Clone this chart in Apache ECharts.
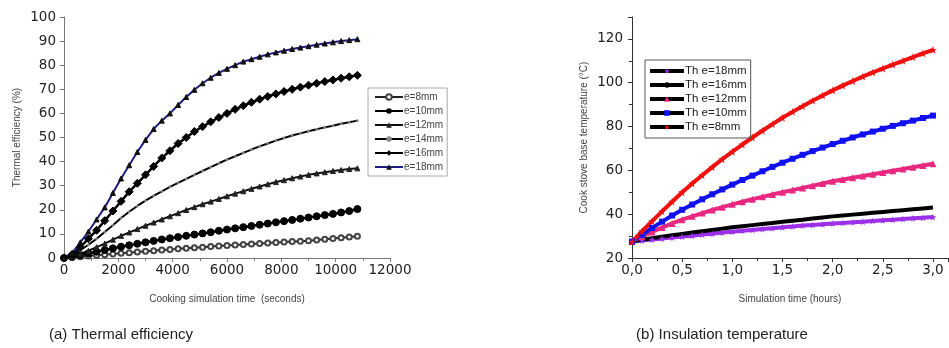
<!DOCTYPE html>
<html>
<head>
<meta charset="utf-8">
<style>html,body{margin:0;padding:0;background:#fff}#c{width:949px;height:348px}</style>
<script src="https://cdn.jsdelivr.net/npm/echarts@6/dist/echarts.min.js"></script>
</head>
<body>
<div id="c"></div>
<script>
// ---------- Chart (a): thermal efficiency ----------
const timeSec = [0,300,600,900,1200,1500,1800,2100,2400,2700,3000,3300,3600,3900,4200,4500,4800,5100,5400,5700,6000,6300,6600,6900,7200,7500,7800,8100,8400,8700,9000,9300,9600,9900,10200,10500,10800];
const eff8  = [0,0.2,0.5,0.8,1.1,1.4,1.7,2,2.2,2.5,2.8,3,3.3,3.5,3.8,4,4.3,4.5,4.8,5,5.2,5.4,5.6,5.8,6,6.2,6.4,6.6,6.8,7,7.2,7.5,7.8,8.1,8.4,8.7,9];
const eff10 = [0,0.5,1.2,1.9,2.6,3.3,4,4.7,5.3,5.9,6.5,7.1,7.7,8.2,8.7,9.2,9.7,10.2,10.7,11.3,11.8,12.3,12.8,13.3,13.8,14.3,14.8,15.3,15.8,16.3,16.8,17.3,17.8,18.3,18.9,19.5,20.3];
const eff12 = [0,0.6,1.8,3,4.5,6,7.6,9.2,10.6,12,13.4,14.7,16,17.3,18.6,19.9,21.1,22.3,23.4,24.5,25.6,26.7,27.7,28.7,29.7,30.6,31.5,32.3,33.1,33.8,34.5,35.1,35.6,36.1,36.5,36.9,37.2];
const eff14 = [0,1.2,3.2,5.5,8,10.8,13.6,16.6,19.2,21.6,23.8,25.8,27.6,29.5,31.2,32.8,34.5,36.1,37.7,39.3,40.8,42.2,43.6,45,46.3,47.5,48.7,49.8,50.8,51.7,52.6,53.4,54.2,54.9,55.7,56.3,57];
const eff16 = [0,1.5,4.5,8,11.5,15.5,19.5,23.5,27.5,31,34.5,38,41.5,44.5,47.5,50,52.5,54.5,56.5,58.3,60,61.7,63.2,64.6,65.9,67,68.1,69.1,70,70.9,71.7,72.5,73.2,73.9,74.6,75.2,75.8];
const eff18 = [0,2,6.5,11,16,21,27,33,38.5,44,49,53.5,57,60,63.5,66.8,69.8,72.5,74.8,76.8,78.5,80,81.5,82.5,83.5,84.5,85.3,86,86.7,87.3,87.9,88.5,89,89.5,90,90.4,90.8];
const effNames = ['e=8mm','e=10mm','e=12mm','e=14mm','e=16mm','e=18mm'];
const effXTicks = [0,2000,4000,6000,8000,10000,12000];
const effYTicks = [0,10,20,30,40,50,60,70,80,90,100];

// ---------- Chart (b): insulation temperature ----------
const hours = [0,0.1,0.2,0.3,0.4,0.5,0.6,0.7,0.8,0.9,1.0,1.1,1.2,1.3,1.4,1.5,1.6,1.7,1.8,1.9,2.0,2.1,2.2,2.3,2.4,2.5,2.6,2.7,2.8,2.9,3.0];
const th18 = [27.5,28,28.4,28.9,29.3,29.8,30.2,30.7,31.1,31.6,32,32.4,32.8,33.2,33.6,34,34.4,34.8,35.1,35.4,35.7,36,36.3,36.6,36.9,37.2,37.5,37.8,38.1,38.4,38.7];
const th16 = [27.5,28.3,29,29.7,30.4,31,31.6,32.2,32.8,33.4,34,34.5,35,35.5,36,36.5,37,37.5,38,38.5,39,39.4,39.8,40.2,40.6,41,41.4,41.8,42.2,42.6,43];
const th12 = [27.5,29.8,31.9,33.9,35.8,37.5,39,40.5,41.9,43.2,44.5,45.7,46.8,47.9,49,50,51,52,53,54,55,55.8,56.6,57.4,58.2,59,59.8,60.6,61.4,62.2,63];
const th10 = [27.5,30.6,33.7,36.6,39.4,42,44.4,46.8,49.1,51.3,53.5,55.6,57.6,59.6,61.6,63.5,65.3,67.1,68.8,70.4,72,73.5,75,76.4,77.7,79,80.3,81.5,82.7,83.9,85];
const th8  = [27.5,32.2,36.8,41.3,45.7,50,54,57.8,61.5,65.1,68.5,71.8,75,78.1,81.1,84,86.7,89.3,91.8,94.2,96.5,98.7,100.8,102.8,104.7,106.5,108.3,110,111.7,113.4,115];
const thNames = ['Th e=18mm','Th e=16mm','Th e=12mm','Th e=10mm','Th e=8mm'];
const thXTicks = [0,0.5,1.0,1.5,2.0,2.5,3.0];
const thYTicks = [20,40,60,80,100,120];

const captions = ['(a) Thermal efficiency','(b) Insulation temperature'];

const zip = (xs, ys) => xs.map((x, i) => [x, ys[i]]);
const star = 'path://M50,0 L61,35 L98,35 L68,57 L79,91 L50,70 L21,91 L32,57 L2,35 L39,35 Z';

const effSeries = [
  {d: eff8,  sym: 'emptyCircle', size: 5, col: '#444', lc: '#222', lw: 2},
  {d: eff10, sym: 'circle',      size: 7, col: '#000', lc: '#000', lw: 2.5},
  {d: eff12, sym: 'triangle',    size: 5, col: '#222', lc: '#111', lw: 2},
  {d: eff14, sym: 'circle',      size: 2, col: '#888', lc: '#000', lw: 2},
  {d: eff16, sym: 'diamond',     size: 8, col: '#000', lc: '#000', lw: 2.5},
  {d: eff18, sym: 'triangle',    size: 5, col: '#111', lc: '#1c1c80', lw: 2}
].map((s, i) => ({
  type: 'line', name: effNames[i], xAxisIndex: 0, yAxisIndex: 0,
  data: zip(timeSec, s.d), symbol: s.sym, symbolSize: s.size, showSymbol: true,
  lineStyle: {color: s.lc, width: s.lw}, itemStyle: {color: s.col, borderColor: s.col},
  smooth: false, animation: false
}));

const thStyle = [
  {d: th18, col: '#9b30e8', sym: star, size: 7},
  {d: th16, col: '#000000', sym: 'none', size: 0},
  {d: th12, col: '#e8287f', sym: 'triangle', size: 7},
  {d: th10, col: '#1010f0', sym: 'rect', size: 6},
  {d: th8,  col: '#f01010', sym: star, size: 8}
];
const thSeries = thStyle.map((s, i) => ({
  type: 'line', name: thNames[i], xAxisIndex: 1, yAxisIndex: 1,
  data: zip(hours, s.d), symbol: s.sym, symbolSize: s.size, showSymbol: s.sym !== 'none',
  lineStyle: {color: s.col, width: 4}, itemStyle: {color: s.col},
  animation: false
}));

const tickFont = {fontFamily: 'DejaVu Sans', fontSize: 13.5, color: '#222'};
const nameFont = {fontFamily: 'Liberation Sans', fontSize: 10, color: '#444'};
const capFont = {fontFamily: 'Liberation Sans', fontSize: 15, fontWeight: 'normal', color: '#222'};

const chart = echarts.init(document.getElementById('c'), null, {renderer: 'canvas'});
chart.setOption({
  animation: false,
  backgroundColor: '#fff',
  title: [
    {text: captions[0], left: 116, top: 322, textAlign: 'center', textStyle: capFont},
    {text: captions[1], left: 717, top: 322, textAlign: 'center', textStyle: capFont}
  ],
  grid: [
    {left: 64, top: 17, width: 326, height: 241, containLabel: false},
    {left: 632, top: 17, width: 316, height: 241, containLabel: false}
  ],
  xAxis: [
    {type: 'value', gridIndex: 0, min: effXTicks[0], max: effXTicks[effXTicks.length-1], interval: 2000,
     name: 'Cooking simulation time  (seconds)', nameLocation: 'middle', nameGap: 36, nameTextStyle: nameFont,
     axisLine: {lineStyle: {color: '#777', width: 1}}, axisTick: {length: 4, lineStyle: {color: '#777'}},
     minorTick: {show: true, splitNumber: 2, length: 3, lineStyle: {color: '#777'}},
     splitLine: {show: false}, axisLabel: Object.assign({margin: 5, formatter: v => String(v)}, tickFont)},
    {type: 'value', gridIndex: 1, min: thXTicks[0], max: 3.15, interval: 0.5,
     name: 'Simulation time (hours)', nameLocation: 'middle', nameGap: 36, nameTextStyle: nameFont,
     axisLine: {lineStyle: {color: '#333', width: 1}}, axisTick: {length: 4, lineStyle: {color: '#333'}},
     minorTick: {show: true, splitNumber: 2, length: 3, lineStyle: {color: '#333'}},
     splitLine: {show: false},
     axisLabel: Object.assign({margin: 5, showMaxLabel: false,
       formatter: v => thXTicks.some(t => Math.abs(t - v) < 1e-9) ? v.toFixed(1).replace('.', ',') : ''}, tickFont)}
  ],
  yAxis: [
    {type: 'value', gridIndex: 0, min: effYTicks[0], max: effYTicks[effYTicks.length-1], interval: 10,
     name: 'Thermal efficiency (%)', nameLocation: 'middle', nameGap: 42, nameTextStyle: nameFont,
     axisLine: {show: true, lineStyle: {color: '#777', width: 1}}, axisTick: {show: true, length: 4, lineStyle: {color: '#777'}},
     splitLine: {show: false}, axisLabel: Object.assign({margin: 8}, tickFont)},
    {type: 'value', gridIndex: 1, min: thYTicks[0], max: 130, interval: 20,
     name: 'Cook stove base temperature (°C)', nameLocation: 'middle', nameGap: 43, nameTextStyle: nameFont,
     axisLine: {show: true, lineStyle: {color: '#333', width: 1}}, axisTick: {show: true, length: 4, lineStyle: {color: '#333'}},
     minorTick: {show: true, splitNumber: 2, length: 3, lineStyle: {color: '#333'}},
     splitLine: {show: false}, axisLabel: Object.assign({margin: 9, showMaxLabel: false}, tickFont)}
  ],
  legend: [
    {data: effNames, orient: 'vertical', left: 368, top: 88, itemWidth: 28, itemHeight: 7, itemGap: 4,
     padding: [4, 4, 4, 6], borderColor: '#aaa', borderWidth: 1, selectedMode: false,
     textStyle: {fontFamily: 'Liberation Sans', fontSize: 10, color: '#444', padding: [0, 0, 0, -4]}},
    {data: thNames.map(n => ({name: n, lineStyle: {color: '#000', width: 4}})),
     orient: 'vertical', left: 645, top: 60, itemWidth: 34, itemHeight: 7, itemGap: 2,
     padding: [5, 4, 5, 3], borderColor: '#555', borderWidth: 1, selectedMode: false,
     textStyle: {fontFamily: 'Liberation Sans', fontSize: 11.5, color: '#222', padding: [0, 0, 0, -4]}}
  ],
  series: effSeries.concat(thSeries)
});
</script>
</body>
</html>
